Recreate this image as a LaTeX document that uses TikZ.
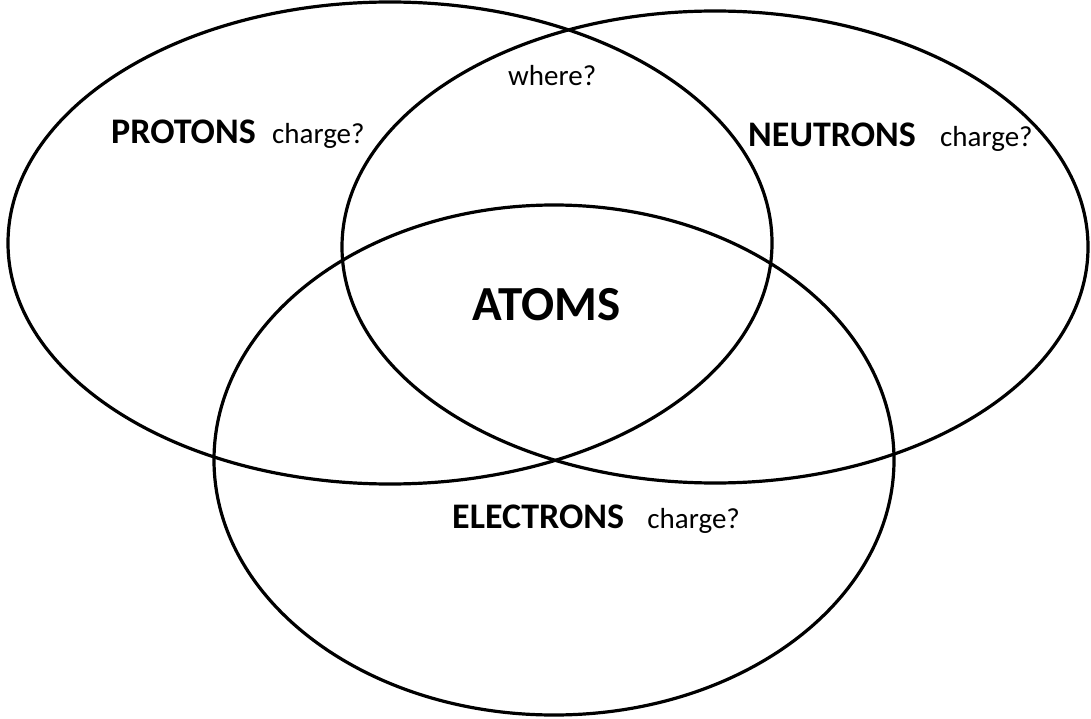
\documentclass[tikz,border=0pt]{standalone}
\usepackage{fontspec}
\setmainfont{Carlito}
\usetikzlibrary{positioning}

\begin{document}
\begin{tikzpicture}[x=1pt, y=-1pt,
    ring/.style={line width=3.2pt, black},
    setname/.style={font=\fontsize{36}{40}\selectfont\bfseries, inner sep=0pt, anchor=base west},
    askbox/.style={font=\fontsize{29}{33}\selectfont, inner sep=0pt, anchor=base west},
    bigname/.style={font=\fontsize{49}{54}\selectfont\bfseries, inner sep=0pt, anchor=base west}
  ]
    \useasboundingbox (0,0) rectangle (1091,719);
    % the three sets
    \draw[ring] (390,243) ellipse [x radius=382, y radius=241];
    \draw[ring] (715,247) ellipse [x radius=373, y radius=236];
    \draw[ring] (554,460) ellipse [x radius=340, y radius=255];

    \node[setname] (protons) at (111,144) {PROTONS};
    \node[askbox] (protonq) at ([xshift=16pt]protons.base east) {charge?};
    \node[setname] (neutrons) at (748,147) {NEUTRONS};
    \node[askbox] (neutronq) at ([xshift=24pt]neutrons.base east) {charge?};
    \node[setname] (electrons) at (452,528) {ELECTRONS};
    \node[askbox] (electronq) at ([xshift=23pt]electrons.base east) {charge?};
    \node[askbox] (where) at (508,86) {where?};
    \node[bigname] (atoms) at (472,320) {ATOMS};
  \end{tikzpicture}
\end{document}
